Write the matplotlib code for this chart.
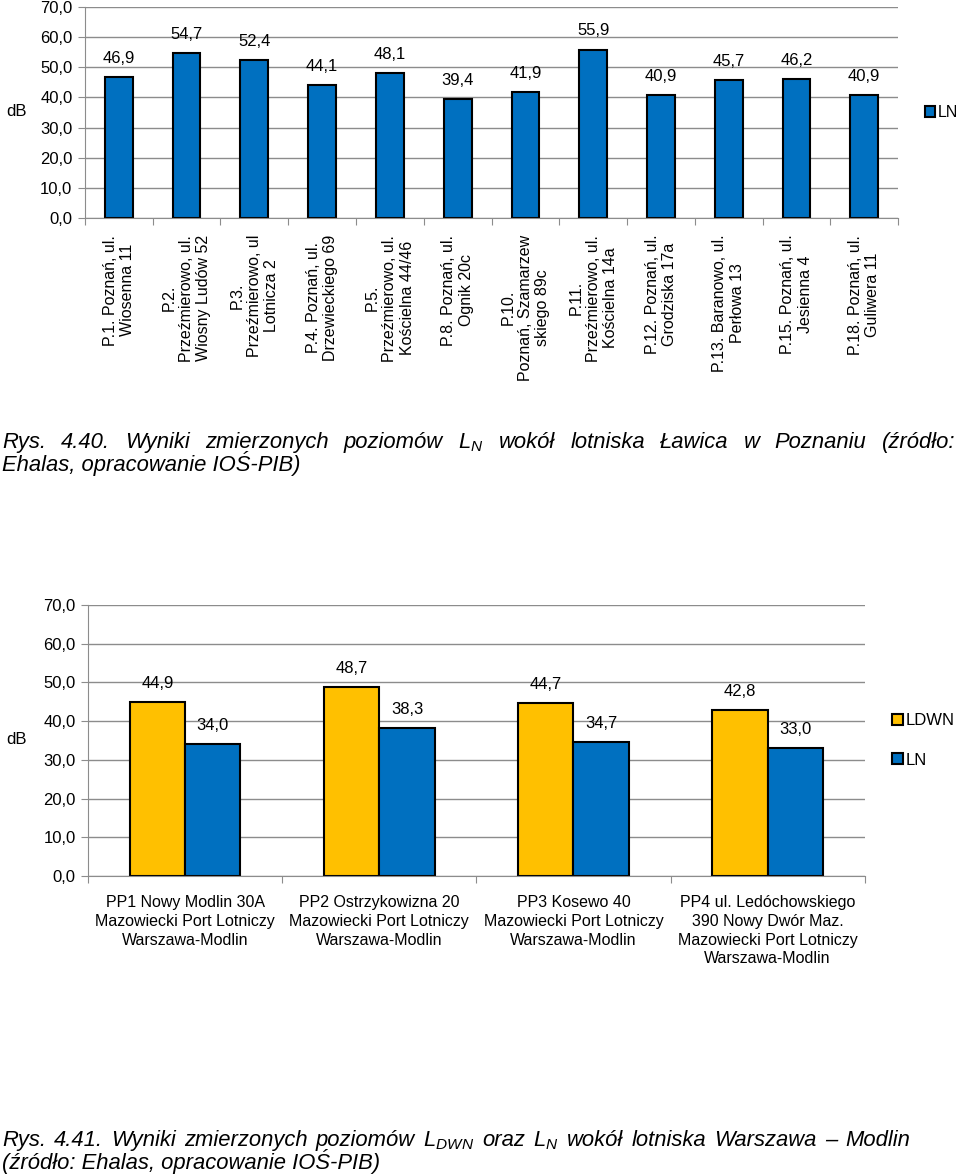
import numpy as np
import matplotlib
matplotlib.use("Agg")
import matplotlib.pyplot as plt
from matplotlib.ticker import FixedLocator, FuncFormatter

plt.rcParams['font.family'] = ['Liberation Sans', 'DejaVu Sans']
plt.rcParams['mathtext.fontset'] = 'custom'
plt.rcParams['mathtext.it'] = 'Liberation Sans:italic'
plt.rcParams['mathtext.rm'] = 'Liberation Sans:italic'

# dane - wykres 1 (Ławica)
poz_labels = [
    "P.1. Poznań, ul.\nWiosenna 11",
    "P.2.\nPrzeźmierowo, ul.\nWiosny Ludów 52",
    "P.3.\nPrzeźmierowo, ul\nLotnicza 2",
    "P.4. Poznań, ul.\nDrzewieckiego 69",
    "P.5.\nPrzeźmierowo, ul.\nKościelna 44/46",
    "P.8. Poznań, ul.\nOgnik 20c",
    "P.10.\nPoznań, Szamarzew\nskiego 89c",
    "P.11.\nPrzeźmierowo, ul.\nKościelna 14a",
    "P.12. Poznań, ul.\nGrodziska 17a",
    "P.13. Baranowo, ul.\nPerłowa 13",
    "P.15. Poznań, ul.\nJesienna 4",
    "P.18. Poznań, ul.\nGuliwera 11",
]
poz_ln = [46.9, 54.7, 52.4, 44.1, 48.1, 39.4, 41.9, 55.9, 40.9, 45.7, 46.2, 40.9]

# dane - wykres 2 (Modlin)
mod_labels = [
    "PP1 Nowy Modlin 30A\nMazowiecki Port Lotniczy\nWarszawa-Modlin",
    "PP2 Ostrzykowizna 20\nMazowiecki Port Lotniczy\nWarszawa-Modlin",
    "PP3 Kosewo 40\nMazowiecki Port Lotniczy\nWarszawa-Modlin",
    "PP4 ul. Ledóchowskiego\n390 Nowy Dwór Maz.\nMazowiecki Port Lotniczy\nWarszawa-Modlin",
]
mod_ldwn = [44.9, 48.7, 44.7, 42.8]
mod_ln = [34.0, 38.3, 34.7, 33.0]

yticks = [0, 10, 20, 30, 40, 50, 60, 70]

BLUE = '#0070C0'
YELLOW = '#FFC000'
GRID = '#8c8c8c'
FS = 12
W, H = 960, 1176


def pl(v):
    return ('%.1f' % v).replace('.', ',')


def style_axes(ax, n):
    ax.set_ylim(0, 70)
    ax.set_xlim(-0.5, n - 0.5)
    ax.yaxis.set_major_locator(FixedLocator(yticks))
    ax.yaxis.set_major_formatter(FuncFormatter(lambda v, p: pl(v)))
    ax.grid(axis='y', color=GRID, lw=1)
    ax.set_axisbelow(True)
    for s in ['top', 'right']:
        ax.spines[s].set_visible(False)
    for s in ['left', 'bottom']:
        ax.spines[s].set_color(GRID)
    ax.tick_params(axis='y', length=5, color=GRID, labelsize=FS, pad=4)
    # kreski miedzy kategoriami
    ax.set_xticks(np.arange(n + 1) - 0.5)
    ax.set_xticklabels([])
    ax.tick_params(axis='x', which='major', length=5, color=GRID)
    ax.set_xticks(np.arange(n), minor=True)
    ax.tick_params(axis='x', which='minor', length=0)


fig = plt.figure(figsize=(W / 100, H / 100), dpi=100)

# ---- wykres 1
ax1 = fig.add_axes([0.0885, 0.8146, 0.847, 0.1794])
x1 = np.arange(len(poz_ln))
ax1.bar(x1, poz_ln, 0.41, color=BLUE, edgecolor='black', lw=1.5, label='LN')
style_axes(ax1, len(poz_ln))
ax1.set_xticklabels(poz_labels, minor=True, rotation=90, ha='center', va='top',
                    multialignment='center', fontsize=11.5)
ax1.tick_params(axis='x', which='minor', pad=12)
for xi, v in zip(x1, poz_ln):
    ax1.annotate(pl(v), (xi, v), xytext=(0, 8), textcoords='offset points',
                 ha='center', va='bottom', fontsize=FS)
fig.text(6 / W, 1 - 112 / H, 'dB', fontsize=FS, ha='left', va='center')
ax1.legend(loc='center left', bbox_to_anchor=(1.033, 0.5), frameon=False,
           fontsize=11.5, handlelength=0.65, handleheight=0.65, handletextpad=0.15,
           borderpad=0, borderaxespad=0)

# ---- wykres 2
ax2 = fig.add_axes([0.0917, 0.2551, 0.809, 0.2304])
x2 = np.arange(len(mod_ln))
w = 0.285
ax2.bar(x2 - w / 2, mod_ldwn, w, color=YELLOW, edgecolor='black', lw=1.5, label='LDWN')
ax2.bar(x2 + w / 2, mod_ln, w, color=BLUE, edgecolor='black', lw=1.5, label='LN')
style_axes(ax2, len(mod_ln))
ax2.set_xticklabels(mod_labels, minor=True, ha='center', va='top',
                    multialignment='center', fontsize=11.5, linespacing=1.3)
ax2.tick_params(axis='x', which='minor', pad=14)
for xi, v in zip(x2 - w / 2, mod_ldwn):
    ax2.annotate(pl(v), (xi, v), xytext=(0, 8), textcoords='offset points',
                 ha='center', va='bottom', fontsize=FS)
for xi, v in zip(x2 + w / 2, mod_ln):
    ax2.annotate(pl(v), (xi, v), xytext=(0, 8), textcoords='offset points',
                 ha='center', va='bottom', fontsize=FS)
fig.text(6 / W, 1 - 740 / H, 'dB', fontsize=FS, ha='left', va='center')
ax2.legend(loc='center left', bbox_to_anchor=(1.035, 0.5), frameon=False,
           fontsize=FS, handlelength=0.65, handleheight=0.65, handletextpad=0.2,
           borderpad=0, borderaxespad=0, labelspacing=1.45)

# ---- podpisy (wyjustowane jak w dokumencie)
cap = dict(fontsize=15.8, style='italic', va='baseline', ha='left')
renderer = fig.canvas.get_renderer()


def justify(line, y, x0, x1):
    words = line.split(' ')
    texts = [fig.text(0, 1 - y / H, wd, **cap) for wd in words]
    widths = [t.get_window_extent(renderer).width for t in texts]
    gap = (x1 - x0 - sum(widths)) / (len(words) - 1)
    x = x0
    for t, wd in zip(texts, widths):
        t.set_x(x / W)
        x += wd + gap


justify('Rys. 4.40. Wyniki zmierzonych poziomów L$_N$ wokół lotniska Ławica w Poznaniu (źródło:',
        448, 2, 955)
fig.text(2 / W, 1 - 471 / H, 'Ehalas, opracowanie IOŚ-PIB)', **cap)
justify('Rys. 4.41. Wyniki zmierzonych poziomów L$_{DWN}$ oraz L$_N$ wokół lotniska Warszawa – Modlin',
        1146, 2, 910)
fig.text(2 / W, 1 - 1169 / H, '(źródło: Ehalas, opracowanie IOŚ-PIB)', **cap)

fig.savefig('out.png', dpi=100)
